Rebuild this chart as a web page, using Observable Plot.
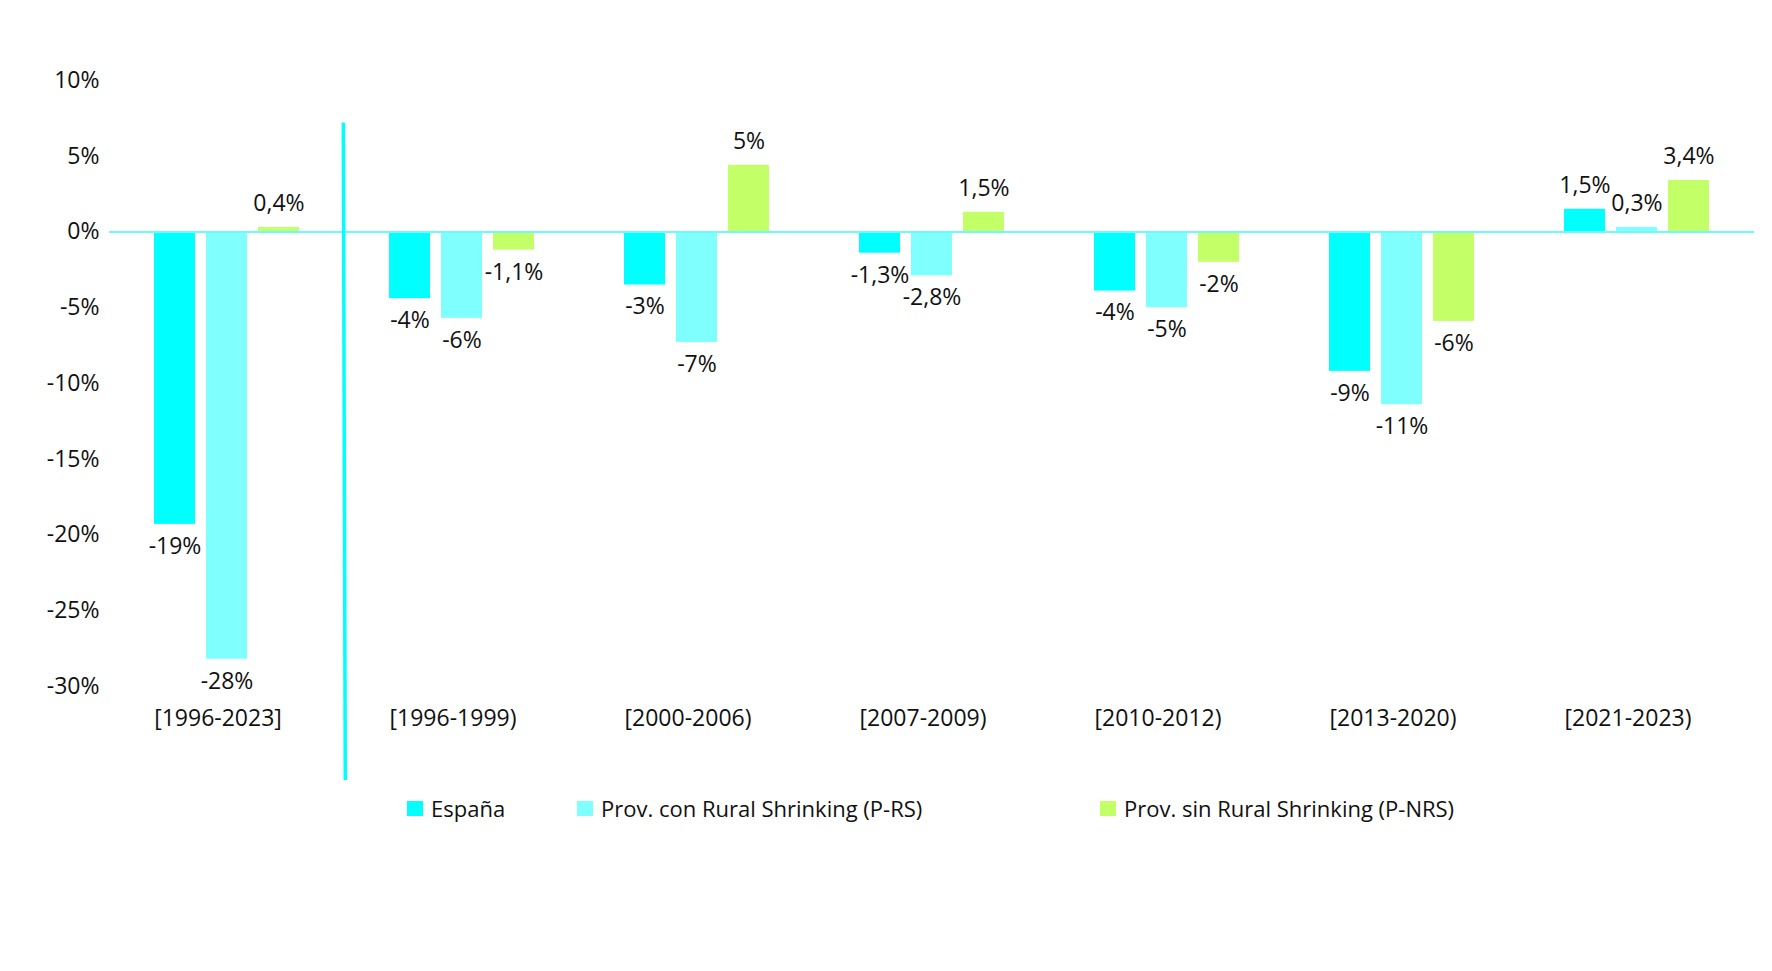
<!DOCTYPE html>
<html>
<head>
<meta charset="utf-8">
<script src="https://cdn.jsdelivr.net/npm/d3@7"></script>
<script src="https://cdn.jsdelivr.net/npm/@observablehq/plot@0.6"></script>
<style>
html, body { margin: 0; padding: 0; background: #fff; }
#wrap { position: relative; width: 1772px; height: 971px; font-family: "Open Sans", sans-serif; color: #111; overflow: hidden; }
#legend { position: absolute; top: 793px; left: 0; width: 1772px; height: 30px; font-size: 22px; }
.item { position: absolute; top: 0; height: 30px; display: flex; align-items: center; white-space: nowrap; }
.sw { width: 16px; height: 15px; margin-right: 8px; flex: none; }
</style>
</head>
<body>
<div id="wrap">
  <div id="chart"></div>
  <div id="legend"></div>
</div>
<script>
// ---- data ----
const categories = ["[1996-2023]", "[1996-1999)", "[2000-2006)", "[2007-2009)", "[2010-2012)", "[2013-2020)", "[2021-2023)"];
const series = ["España", "Prov. con Rural Shrinking (P-RS)", "Prov. sin Rural Shrinking (P-NRS)"];
const espana = [-19.3, -4.4, -3.5, -1.4, -3.9, -9.2, 1.5];
const provRS = [-28.2, -5.7, -7.3, -2.9, -5.0, -11.4, 0.3];
const provNRS = [0.3, -1.2, 4.4, 1.3, -2.0, -5.9, 3.4];
const espanaLabels = ["-19%", "-4%", "-3%", "-1,3%", "-4%", "-9%", "1,5%"];
const provRSLabels = ["-28%", "-6%", "-7%", "-2,8%", "-5%", "-11%", "0,3%"];
const provNRSLabels = ["0,4%", "-1,1%", "5%", "1,5%", "-2%", "-6%", "3,4%"];
const yTicks = [10, 5, 0, -5, -10, -15, -20, -25, -30];
const separatorSpan = [7.2, -36.2];

// ---- styles ----
const colors = ["#00ffff", "#80ffff", "#c3ff66"];
const FONT = '"Open Sans", sans-serif';
const legendLeft = [407, 577, 1100];

const values = [espana, provRS, provNRS];
const labels = [espanaLabels, provRSLabels, provNRSLabels];
const data = [];
categories.forEach((cat, i) => {
  series.forEach((s, j) => {
    data.push({cat, series: s, value: values[j][i], label: labels[j][i]});
  });
});

const chart = Plot.plot({
  width: 1772,
  height: 796,
  marginTop: 80,
  marginBottom: 110,
  marginLeft: 108,
  marginRight: 17,
  style: {fontFamily: FONT, fontSize: "23px", color: "#111", background: "white", overflow: "visible"},
  fx: {domain: categories, padding: 0, axis: null, label: null},
  x: {domain: series, paddingInner: 0.2155, paddingOuter: 0.828, axis: null},
  y: {domain: [-30, 10], axis: null},
  color: {domain: series, range: colors},
  marks: [
    Plot.axisY({ticks: yTicks, tickFormat: d => `${d}%`, tickSize: 0, tickPadding: 10, label: null, fontSize: 23, fill: "#111"}),
    Plot.axisFx({anchor: "bottom", tickSize: 0, tickPadding: 23, dx: -9, label: null, fontSize: 23, fill: "#111"}),
    Plot.barY(data, {fx: "cat", x: "series", y: "value", fill: "series"}),
    Plot.ruleY([0], {stroke: "#6ffafa", strokeWidth: 2}),
    Plot.text(data, {filter: d => d.value >= 0, fx: "cat", x: "series", y: "value", text: "label", dy: -24, fontSize: 23, fill: "#111"}),
    Plot.text(data, {filter: d => d.value < 0, fx: "cat", x: "series", y: "value", text: "label", dy: 22, fontSize: 23, fill: "#111"})
  ]
});

document.getElementById("chart").appendChild(chart);

// separator line between the total period and the sub-periods, positioned via the plot's scales
const svgEl = chart.tagName.toLowerCase() === "svg" ? chart : chart.querySelector("svg");
const fxs = chart.scale("fx");
const ys = chart.scale("y");
const band = d3.scaleBand(fxs.domain, fxs.range)
  .paddingInner(fxs.paddingInner ?? 0)
  .paddingOuter(fxs.paddingOuter ?? 0)
  .align(fxs.align ?? 0.5);
const yLin = d3.scaleLinear(ys.domain, ys.range);
const xSep = band(categories[1]);
d3.select(svgEl).append("line")
  .attr("x1", xSep).attr("x2", xSep + 2)
  .attr("y1", yLin(separatorSpan[0])).attr("y2", yLin(separatorSpan[1]))
  .attr("stroke", colors[0]).attr("stroke-width", 3.5);

// legend
const legend = document.getElementById("legend");
series.forEach((s, i) => {
  const item = document.createElement("div");
  item.className = "item";
  item.style.left = legendLeft[i] + "px";
  const sw = document.createElement("span");
  sw.className = "sw";
  sw.style.background = colors[i];
  const t = document.createElement("span");
  t.textContent = s;
  item.appendChild(sw);
  item.appendChild(t);
  legend.appendChild(item);
});
</script>
</body>
</html>
